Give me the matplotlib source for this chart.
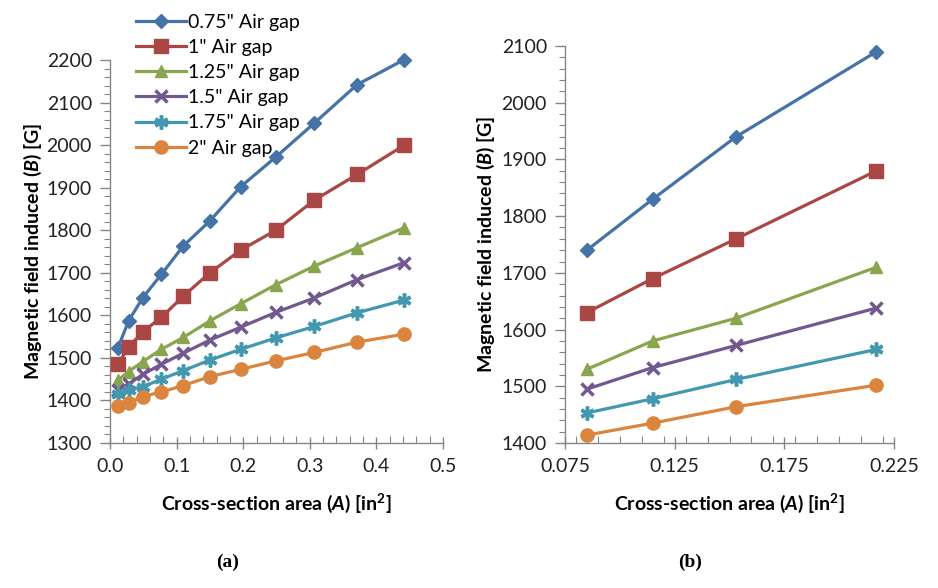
import matplotlib
matplotlib.use("Agg")
import matplotlib.pyplot as plt
from matplotlib.ticker import MultipleLocator, FormatStrFormatter, FixedLocator

plt.rcParams['font.family'] = ['Lato', 'DejaVu Sans']
plt.rcParams['mathtext.fontset'] = 'custom'
plt.rcParams['mathtext.rm'] = 'Lato:bold'
plt.rcParams['mathtext.it'] = 'Lato:bold:italic'
plt.rcParams['mathtext.bf'] = 'Lato:bold'

labels = ['0.75" Air gap', '1" Air gap', '1.25" Air gap', '1.5" Air gap', '1.75" Air gap', '2" Air gap']
colors = ['#4572A7', '#AA4643', '#89A54E', '#71588F', '#4198AF', '#DB843D']

# Panel (a)
area_a = [0.012, 0.028, 0.049, 0.077, 0.110, 0.150, 0.196, 0.249, 0.307, 0.371, 0.442]
b_a_075 = [1524, 1587, 1641, 1696, 1763, 1822, 1902, 1972, 2052, 2142, 2201]
b_a_100 = [1486, 1525, 1561, 1595, 1645, 1700, 1753, 1800, 1871, 1931, 2000]
b_a_125 = [1448, 1468, 1491, 1520, 1548, 1587, 1627, 1672, 1716, 1759, 1806]
b_a_150 = [1425, 1439, 1461, 1485, 1511, 1542, 1572, 1607, 1641, 1684, 1724]
b_a_175 = [1414, 1425, 1432, 1450, 1470, 1495, 1520, 1547, 1574, 1606, 1636]
b_a_200 = [1388, 1395, 1409, 1420, 1435, 1456, 1473, 1493, 1513, 1537, 1556]

# Panel (b)
area_b = [0.085, 0.115, 0.153, 0.217]
b_b_075 = [1740, 1830, 1940, 2090]
b_b_100 = [1630, 1690, 1760, 1880]
b_b_125 = [1530, 1580, 1620, 1710]
b_b_150 = [1495, 1533, 1572, 1638]
b_b_175 = [1453, 1478, 1512, 1565]
b_b_200 = [1414, 1435, 1464, 1502]
xticks_b = [0.075, 0.125, 0.175, 0.225]

series_a = [b_a_075, b_a_100, b_a_125, b_a_150, b_a_175, b_a_200]
series_b = [b_b_075, b_b_100, b_b_125, b_b_150, b_b_175, b_b_200]

markers = ['D', 's', '^', 'x', (6, 2, 0), 'o']
msizes = [7.5, 10, 9, 9, 10, 9.5]
mews = [1, 1, 1, 2.5, 2.5, 1]

fig = plt.figure(figsize=(9.38, 5.88), dpi=100)
W, H = 938, 588
axA = fig.add_axes([110 / W, 1 - 443 / H, (443 - 110) / W, (443 - 60) / H])
axB = fig.add_axes([565 / W, 1 - 443 / H, (894 - 565) / W, (443 - 46) / H])

FS = 14
gray = '#868686'
handles = []
for ax, xs, ser in [(axA, area_a, series_a), (axB, area_b, series_b)]:
    for i, ys in enumerate(ser):
        h, = ax.plot(xs, ys, color=colors[i], lw=2.3, marker=markers[i],
                     ms=msizes[i], mew=mews[i], mec=colors[i], mfc=colors[i],
                     clip_on=False, zorder=3, label=labels[i])
        if ax is axA:
            handles.append(h)
    for s in ['top', 'right']:
        ax.spines[s].set_visible(False)
    for s in ['left', 'bottom']:
        ax.spines[s].set_color(gray)
        ax.spines[s].set_linewidth(1.0)
    ax.tick_params(axis='both', which='both', color=gray, labelsize=FS, labelcolor='#222222')
    ax.tick_params(axis='x', which='major', direction='inout', length=9, width=1, pad=6)
    ax.tick_params(axis='x', which='minor', direction='in', length=5, width=0.8)
    ax.tick_params(axis='y', which='major', direction='out', length=7, width=1, pad=6)
    ax.tick_params(axis='y', which='minor', direction='out', length=4, width=0.8)
    ax.set_ylabel(r'Magnetic field induced ($B$) [G]', fontsize=FS, fontweight='bold')
    ax.set_xlabel(r'Cross-section area ($A$) [in$^2$]', fontsize=FS, fontweight='bold')

axA.set_xlim(0, 0.5)
axA.set_ylim(1300, 2200)
axA.xaxis.set_major_locator(MultipleLocator(0.1))
axA.xaxis.set_minor_locator(MultipleLocator(0.02))
axA.xaxis.set_major_formatter(FormatStrFormatter('%.1f'))
axA.yaxis.set_major_locator(MultipleLocator(100))
axA.yaxis.set_minor_locator(MultipleLocator(20))

axB.set_xlim(0.075, 0.225)
axB.set_ylim(1400, 2100)
axB.xaxis.set_major_locator(FixedLocator(xticks_b))
axB.xaxis.set_minor_locator(MultipleLocator(0.01))
axB.xaxis.set_major_formatter(FormatStrFormatter('%.3f'))
axB.yaxis.set_major_locator(MultipleLocator(100))
axB.yaxis.set_minor_locator(MultipleLocator(20))

axA.yaxis.set_label_coords(-66 / 333, 0.5)
axB.yaxis.set_label_coords(-68 / 329, 0.5)
axA.xaxis.set_label_coords(0.5, -49 / 383)
axB.xaxis.set_label_coords(0.5, -49 / 397)

fig.legend(handles=handles, loc='upper left', bbox_to_anchor=(128 / W, 1 - 6 / H),
           frameon=False, fontsize=FS, handlelength=2.6, handletextpad=0.1,
           labelspacing=0.42, borderaxespad=0)

fig.text(228 / W, 1 - 562 / H, '(a)', family='Liberation Serif', fontweight='bold', fontsize=14, ha='center', va='center')
fig.text(690 / W, 1 - 562 / H, '(b)', family='Liberation Serif', fontweight='bold', fontsize=14, ha='center', va='center')

fig.savefig('out.png', dpi=100)
